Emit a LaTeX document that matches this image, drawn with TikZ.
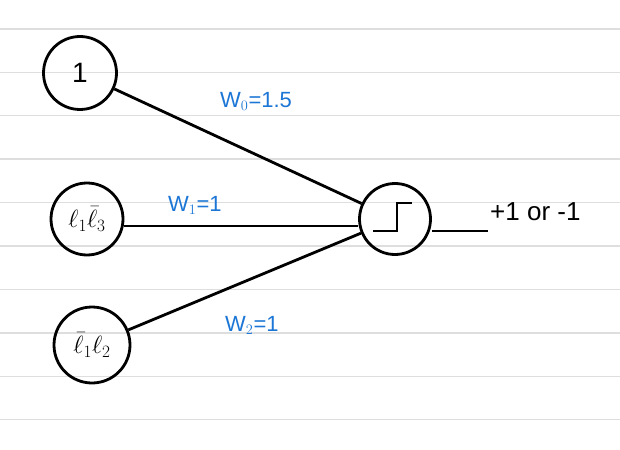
\documentclass[tikz,border=0pt]{standalone}
\usepackage{fontspec}
\setmainfont{Liberation Sans}
\begin{document}
\begin{tikzpicture}[x=1pt,y=-1pt,
  rule/.style={draw=rulegray,line width=1.4pt},
  unit/.style={circle,draw=black,line width=2.8pt,minimum size=72pt,inner sep=0pt},
  wire/.style={draw=black,line width=2.8pt},
  weight/.style={text=inkblue,font=\fontsize{22}{22}\selectfont,inner sep=0pt},
  tag/.style={font=\fontsize{26}{26}\selectfont,inner sep=0pt}]
\definecolor{rulegray}{RGB}{222,222,222}
\definecolor{inkblue}{RGB}{28,118,214}
% canvas
\path[use as bounding box,fill=white] (0,0) rectangle (620,449);
% ruled paper lines
\foreach \k in {0,...,9}
  \draw[rule] (0,{29+43.4*\k}) -- (620,{29+43.4*\k});
% input units
\node[unit,minimum size=73pt] (bias) at (80,73) {\fontsize{28}{28}\selectfont 1};
\node[unit] (inA) at (87,219) {\fontsize{23}{23}\selectfont$\ell_1\bar{\ell}_3$};
\node[unit,minimum size=76pt] (inB) at (92,345) {\fontsize{23}{23}\selectfont$\bar{\ell}_1\ell_2$};
% output unit with step symbol
\node[unit,minimum size=71pt] (out) at (395,219) {};
\draw[wire,line width=2.6pt] ([shift={(-22,12)}]out.center) -- ([shift={(2,12)}]out.center)
  -- ([shift={(2,-16)}]out.center) -- ([shift={(17,-16)}]out.center);
% connections
\draw[wire] (bias) -- (out);
\draw[wire] (inA.east |- 0,226) -- (out.west |- 0,226);
\draw[wire] (inB) -- (out);
\coordinate (res) at (488,231);
\draw[wire] (out.east |- res) -- (res);
% labels
\node[tag,anchor=west] (resl) at (490,212) {+1 or -1};
\node[weight,anchor=west] (w0) at (220,101) {W$_0$=1.5};
\node[weight,anchor=west] (w1) at (168,205) {W$_1$=1};
\node[weight,anchor=west] (w2) at (225,325) {W$_2$=1};
\end{tikzpicture}
\end{document}
